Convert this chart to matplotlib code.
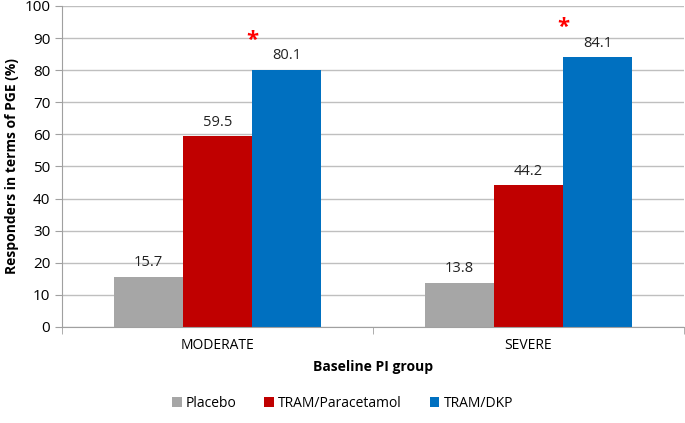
import numpy as np
import matplotlib
matplotlib.use("Agg")
import matplotlib.pyplot as plt

plt.rcParams['font.family'] = ['Open Sans', 'DejaVu Sans']

groups = ["MODERATE", "SEVERE"]
series = ["Placebo", "TRAM/Paracetamol", "TRAM/DKP"]
placebo = [15.7, 13.8]
tram_para = [59.5, 44.2]
tram_dkp = [80.1, 84.1]
colors = ["#A6A6A6", "#C00000", "#0070C0"]

fig = plt.figure(figsize=(6.85, 4.23), dpi=100)
ax = fig.add_axes([0.0905, 0.227, 0.908, 0.759])

x = np.arange(len(groups))
w = 0.222
for i, (vals, name, c) in enumerate(zip([placebo, tram_para, tram_dkp], series, colors)):
    pos = x + (i - 1) * w
    ax.bar(pos, vals, w, color=c, label=name, zorder=2)
    for p, v in zip(pos, vals):
        ax.text(p, v + 2, "%.1f" % v, ha="center", va="bottom", fontsize=10.5, color="#222222")

# significance markers on TRAM/DKP
for p, v in zip(x + w, tram_dkp):
    ax.text(p - w / 2, v + 6.0, "*", ha="center", va="bottom", fontsize=16,
            color="red", fontweight="bold")

ax.set_xlim(-0.5, 1.5)
ax.set_ylim(0, 100)
ax.set_yticks(range(0, 101, 10))
ax.set_xticks(x)
ax.set_xticklabels(groups, fontsize=10)
ax.tick_params(axis="y", labelsize=11, length=5, color="#A0A0A0")
ax.tick_params(axis="x", length=0, pad=8)
ax.set_xticks([-0.5, 0.5, 1.5], minor=True)
ax.tick_params(axis="x", which="minor", length=5, color="#A0A0A0")
ax.grid(axis="y", color="#BFBFBF", linewidth=1, zorder=0)
for s in ["top", "right"]:
    ax.spines[s].set_visible(False)
ax.spines["left"].set_color("#A0A0A0")
ax.spines["bottom"].set_color("#A0A0A0")

ax.set_ylabel("Responders in terms of PGE (%)", fontsize=10, fontweight="bold")
ax.set_xlabel("Baseline PI group", fontsize=10, fontweight="bold", labelpad=5)

fig.legend(loc="lower center", bbox_to_anchor=(0.5, 0.0), ncol=3, frameon=False,
           fontsize=10, handlelength=0.7, handleheight=0.7, columnspacing=2.0,
           handletextpad=0.3)

fig.savefig("out.png", dpi=100)
